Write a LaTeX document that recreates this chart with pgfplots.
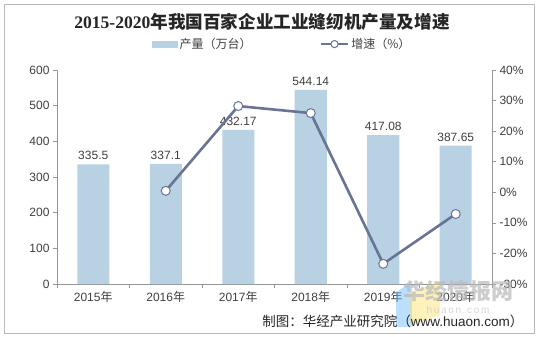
\documentclass[border=0pt]{standalone}
\usepackage{pgfplots}
\pgfplotsset{compat=1.18}
\usepackage{fontspec}
\setmainfont{Liberation Sans}
\newfontfamily\cjk{Noto Sans CJK SC}
\newfontfamily\titleserif{Liberation Serif}
\definecolor{barc}{RGB}{184,210,228}
\definecolor{linec}{RGB}{105,115,150}
\definecolor{axc}{RGB}{150,150,150}
\definecolor{txtc}{RGB}{64,64,64}
\begin{document}
\begin{tikzpicture}
\path[use as bounding box] (0bp,0bp) rectangle (538bp,337bp);
\fill[white] (0bp,0bp) rectangle (538bp,337bp);
\draw[gray!55, line width=0.8bp] (4bp,4bp) rectangle (534bp,333bp);
\node[text=black!85] at (262bp,315bp) {\fontsize{17.6bp}{20bp}\selectfont{\titleserif\bfseries 2015-2020}{\cjk\bfseries 年我国百家企业工业缝纫机产量及增速}};
\begin{axis}[
  at={(57bp,53bp)}, anchor=south west, scale only axis,
  width=435bp, height=214bp,
  xmin=-0.5, xmax=5.5, ymin=0, ymax=600,
  axis y line*=left, axis x line*=bottom,
  axis line style={draw=axc, line width=0.7bp, -},
  ytick={0,100,...,600},
  xtick={-0.5,0.5,...,5.5}, x tick label as interval,
  xticklabels={2015{\cjk 年},2016{\cjk 年},2017{\cjk 年},2018{\cjk 年},2019{\cjk 年},2020{\cjk 年}},
  tick align=outside, major tick length=4bp,
  tick style={draw=axc, line width=0.7bp},
  ticklabel style={font=\fontsize{12bp}{14bp}\selectfont, text=txtc},
  /pgf/number format/assume math mode=true,
  ybar, bar width=32bp,
  point meta=explicit symbolic,
  nodes near coords={\pgfplotspointmeta},
  nodes near coords style={font=\fontsize{12bp}{14bp}\selectfont, text=txtc, anchor=south, yshift=1bp},
  clip=false,
]
\addplot[fill=barc, draw=none] coordinates {
  (0,335.5)[335.5] (1,337.1)[337.1] (2,432.17)[432.17]
  (3,544.14)[544.14] (4,417.08)[417.08] (5,387.65)[387.65]};
\end{axis}
\begin{axis}[
  at={(57bp,53bp)}, anchor=south west, scale only axis,
  width=435bp, height=214bp,
  xmin=-0.5, xmax=5.5, ymin=-30, ymax=40,
  axis y line*=right, axis x line=none,
  axis line style={draw=axc, line width=0.7bp, -},
  ytick={-30,-20,...,40},
  yticklabels={-30\%,-20\%,-10\%,0\%,10\%,20\%,30\%,40\%},
  tick align=outside, major tick length=4bp,
  tick style={draw=axc, line width=0.7bp},
  ticklabel style={font=\fontsize{12bp}{14bp}\selectfont, text=txtc},
  clip=false,
  legend columns=2,
  legend style={at={(0.518,1.121)}, anchor=center, draw=none, fill=none,
    font=\fontsize{12bp}{14bp}\selectfont, text=txtc,
    /tikz/every even column/.append style={column sep=66bp}},
]
\addlegendimage{legend image code/.code={\fill[barc] (0bp,-2.6bp) rectangle (25bp,2.6bp);}}
\addlegendentry{{\cjk 产量（万台）}}
\addplot[linec, line width=2.6bp, mark=*, mark size=4.5bp,
  mark options={fill=white, draw=linec, line width=1bp},
  legend image code/.code={\draw[linec, line width=2.6bp] (0bp,0bp) -- (27bp,0bp);
    \draw[linec, fill=white, line width=1bp] (13.5bp,0bp) circle (3.6bp);}]
  coordinates {(1,0.48) (2,28.2) (3,25.9) (4,-23.4) (5,-7.1)};
\addlegendentry{{\cjk 增速（\%）}}
\end{axis}
% watermark
\fill[blue!45!cyan!60, opacity=0.45] (396bp,10bp) -- (412bp,10bp) -- (412bp,55bp) -- (396bp,45bp) -- cycle;
\fill[yellow!70!orange!60, opacity=0.45] (410bp,12bp) -- (440bp,22bp) -- (440bp,55bp) -- (410bp,45bp) -- cycle;
\node[text=gray!55, opacity=0.7] at (458bp,46bp) {\fontsize{22bp}{24bp}\selectfont\cjk\bfseries 华经情报网};
\node[text=gray!40, opacity=0.8] at (458bp,27bp) {\fontsize{10bp}{12bp}\selectfont h\,u\,a\,o\,n\,.\,c\,o\,m};
\node[anchor=east, text=black!85] at (527bp,16bp) {\fontsize{13.5bp}{16bp}\selectfont{\cjk 制图：华经产业研究院（}www.huaon.com{\cjk ）}};
\end{tikzpicture}
\end{document}
